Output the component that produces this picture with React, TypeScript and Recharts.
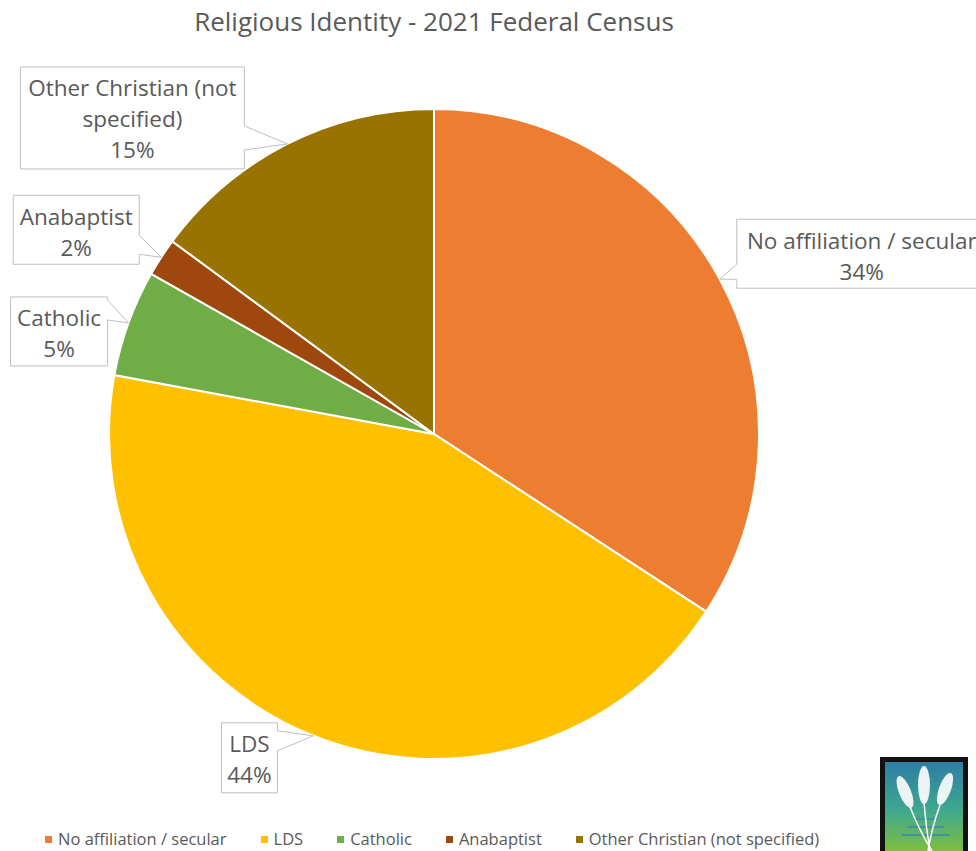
import React from 'react';
import { PieChart, Pie, Cell, Legend } from 'recharts';

const categories = ['No affiliation / secular', 'LDS', 'Catholic', 'Anabaptist', 'Other Christian (not specified)'];
const shares = [34.2, 43.7, 5.3, 1.9, 14.9];
const colors = ['#ED7D31', '#FFC000', '#70AD47', '#9E480E', '#997300'];

const data = categories.map((name, i) => ({ name, value: shares[i], color: colors[i] }));

const FONT = '"Open Sans", "Noto Sans", sans-serif';
const TEXT = '#595959';
const RAD = Math.PI / 180;

// callout boxes, offsets measured from the slice tip on the rim
const CALLOUTS: Record<string, { dx: number; dy: number; w: number; h: number; side: 'left' | 'right'; b1: number; b2: number; wrap: number }> = {
  'No affiliation / secular': { dx: 17, dy: -60, w: 250, h: 69, side: 'left', b1: 45, b2: 60, wrap: 40 },
  LDS: { dx: -92, dy: -13, w: 56, h: 70, side: 'right', b1: 8, b2: 28, wrap: 40 },
  Catholic: { dx: -118, dy: -26, w: 97, h: 69, side: 'right', b1: 3, b2: 23, wrap: 40 },
  Anabaptist: { dx: -148, dy: -62, w: 126, h: 69, side: 'right', b1: 40, b2: 59, wrap: 40 },
  'Other Christian (not specified)': { dx: -267, dy: -77, w: 224, h: 102, side: 'right', b1: 59, b2: 83, wrap: 20 },
};

const wrapText = (s: string, max: number) => {
  const words = s.split(' ');
  const lines: string[] = [];
  let cur = '';
  words.forEach((w) => {
    const next = cur ? cur + ' ' + w : w;
    if (next.length > max && cur) {
      lines.push(cur);
      cur = w;
    } else cur = next;
  });
  if (cur) lines.push(cur);
  return lines;
};

const renderCallout = (props: any) => {
  const { cx, cy, midAngle, outerRadius, percent, name } = props;
  const c = CALLOUTS[name];
  if (!c) return null;
  const tx = cx + outerRadius * Math.cos(-midAngle * RAD);
  const ty = cy + outerRadius * Math.sin(-midAngle * RAD);
  const bx = tx + c.dx;
  const by = ty + c.dy;
  let d: string;
  if (c.side === 'right') {
    d = `M${bx},${by} H${bx + c.w} V${by + c.b1} L${tx},${ty} L${bx + c.w},${by + c.b2} V${by + c.h} H${bx} Z`;
  } else {
    d = `M${bx},${by} H${bx + c.w} V${by + c.h} H${bx} V${by + c.b2} L${tx},${ty} L${bx},${by + c.b1} Z`;
  }
  const lines = [...wrapText(name, c.wrap), `${Math.round(percent * 100)}%`];
  return (
    <g key={`callout-${name}`}>
      <path d={d} fill="#fff" stroke="#BFBFBF" strokeWidth={1} />
      {lines.map((ln, i) => (
        <text
          key={i}
          x={bx + c.w / 2}
          y={by + 21 + i * 31}
          textAnchor="middle"
          dominantBaseline="central"
          fill={TEXT}
          fontSize={22.5}
          fontFamily={FONT}
        >
          {ln}
        </text>
      ))}
    </g>
  );
};

const renderLegend = () => (
  <div style={{ display: 'flex', alignItems: 'center', fontFamily: FONT, fontSize: 16.5, lineHeight: '20px', color: TEXT, whiteSpace: 'nowrap' }}>
    {data.map((d) => (
      <div key={d.name} style={{ display: 'flex', alignItems: 'center', marginRight: 34 }}>
        <span style={{ display: 'inline-block', width: 7, height: 7, background: d.color, marginRight: 6 }} />
        <span>{d.name}</span>
      </div>
    ))}
  </div>
);

const Logo = () => (
  <svg width={88} height={94} style={{ position: 'absolute', left: 880, top: 757 }}>
    <defs>
      <linearGradient id="logoGrad" x1="0" y1="0" x2="0" y2="1">
        <stop offset="0%" stopColor="#2E7DA4" />
        <stop offset="55%" stopColor="#3FA88E" />
        <stop offset="100%" stopColor="#7DBE3C" />
      </linearGradient>
    </defs>
    <rect x={0} y={0} width={88} height={94} fill="#111" />
    <rect x={5} y={5} width={78} height={89} fill="url(#logoGrad)" />
    <g stroke="#3E8FA8" strokeWidth={2}>
      <line x1={22} y1={78} x2={70} y2={78} />
      <line x1={28} y1={70} x2={64} y2={70} />
      <line x1={34} y1={62} x2={58} y2={62} />
    </g>
    <g fill="#fff" opacity={0.9}>
      <ellipse cx={25} cy={35} rx={6} ry={17} transform="rotate(-22 25 35)" />
      <ellipse cx={44} cy={28} rx={6} ry={19} />
      <ellipse cx={65} cy={32} rx={6} ry={17} transform="rotate(20 65 32)" />
    </g>
    <g stroke="#fff" strokeWidth={1.5} fill="none">
      <path d="M30 50 Q40 75 52 94" />
      <path d="M44 46 Q46 70 50 94" />
      <path d="M60 48 Q52 70 48 94" />
    </g>
  </svg>
);

export default function App() {
  return (
    <div style={{ position: 'absolute', left: 0, top: 0, width: 976, height: 851, background: '#fff', overflow: 'hidden' }}>
      <div
        style={{
          position: 'absolute',
          left: 0,
          top: 3,
          width: 868,
          textAlign: 'center',
          fontFamily: FONT,
          fontSize: 26,
          color: TEXT,
        }}
      >
        Religious Identity - 2021 Federal Census
      </div>
      <div style={{ position: 'absolute', left: 0, top: 0 }}>
        <PieChart width={976} height={851} margin={{ top: 0, right: 0, bottom: 0, left: 0 }}>
          <Pie
            data={data}
            dataKey="value"
            nameKey="name"
            cx={434}
            cy={434}
            outerRadius={325}
            startAngle={90}
            endAngle={-270}
            stroke="#fff"
            strokeWidth={2}
            label={renderCallout}
            labelLine={false}
            isAnimationActive={false}
          >
            {data.map((d) => (
              <Cell key={d.name} fill={d.color} />
            ))}
          </Pie>
          <Legend content={renderLegend} wrapperStyle={{ left: 45, top: 829, width: 900 }} />
        </PieChart>
      </div>
      <Logo />
    </div>
  );
}
